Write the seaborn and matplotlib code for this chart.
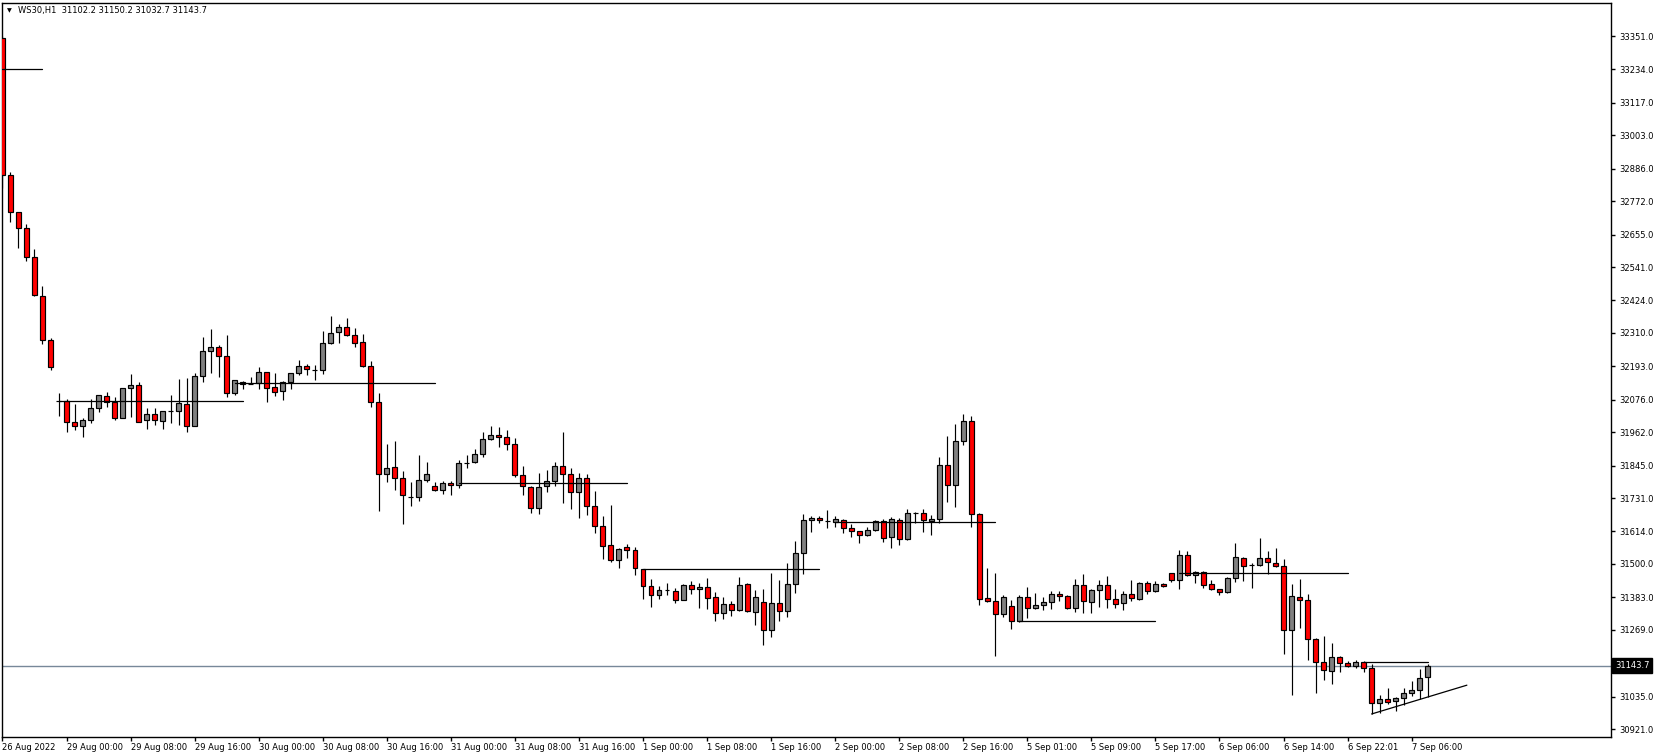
import numpy as np
import pandas as pd
import seaborn as sns
import matplotlib
matplotlib.use("Agg")
from matplotlib import pyplot as plt
import matplotlib.transforms as mtransforms

# WS30 H1 candles (one entry per bar)
opens = [33343, 32864, 32733, 32677, 32575, 32438, 32284, 32072, 32070, 31997,
         31983, 32004, 32046, 32088, 32067, 32011, 32116, 32126, 32004, 32025,
         32000, 32035, 32035, 32060, 31983, 32158, 32246, 32260, 32228, 32098,
         32137, 32132, 32133, 32172, 32119, 32105, 32137, 32168, 32193, 32181,
         32179, 32274, 32312, 32330, 32302, 32277, 32193, 32067, 31814, 31839,
         31800, 31736, 31734, 31793, 31772, 31758, 31783, 31776, 31855, 31856,
         31884, 31937, 31951, 31944, 31920, 31811, 31769, 31695, 31772, 31790,
         31842, 31814, 31751, 31800, 31702, 31632, 31566, 31513, 31558, 31548,
         31481, 31422, 31390, 31408, 31404, 31373, 31425, 31411, 31418, 31383,
         31327, 31359, 31338, 31429, 31331, 31366, 31267, 31362, 31334, 31429,
         31537, 31653, 31660, 31649, 31646, 31653, 31625, 31614, 31600, 31618,
         31650, 31593, 31653, 31586, 31678, 31678, 31650, 31657, 31846, 31776,
         31930, 32000, 31674, 31380, 31369, 31323, 31352, 31299, 31383, 31345,
         31355, 31366, 31394, 31387, 31345, 31425, 31366, 31408, 31425, 31376,
         31362, 31394, 31376, 31432, 31404, 31429, 31467, 31443, 31530, 31460,
         31471, 31429, 31411, 31401, 31450, 31520, 31495, 31495, 31520, 31502,
         31492, 31267, 31383, 31373, 31236, 31155, 31124, 31173, 31152, 31141,
         31155, 31134, 31011, 31025, 31018, 31029, 31047, 31057, 31102.2]
highs = [33350, 32873, 32735, 32692, 32604, 32475, 32293, 32100, 32079, 32061,
         32013, 32079, 32093, 32103, 32085, 32117, 32166, 32137, 32047, 32047,
         32038, 32091, 32148, 32152, 32168, 32296, 32323, 32267, 32302, 32146,
         32140, 32155, 32191, 32174, 32168, 32142, 32170, 32215, 32200, 32197,
         32317, 32369, 32341, 32362, 32326, 32305, 32211, 32098, 31920, 31930,
         31825, 31786, 31881, 31856, 31786, 31790, 31790, 31863, 31881, 31902,
         31962, 31983, 31979, 31969, 31941, 31842, 31772, 31818, 31828, 31856,
         31962, 31835, 31818, 31814, 31755, 31667, 31706, 31555, 31569, 31558,
         31484, 31446, 31422, 31432, 31415, 31429, 31439, 31432, 31450, 31401,
         31383, 31369, 31453, 31432, 31408, 31411, 31467, 31443, 31502, 31579,
         31674, 31667, 31667, 31688, 31667, 31657, 31639, 31616, 31629, 31653,
         31657, 31664, 31660, 31692, 31681, 31692, 31671, 31874, 31948, 31990,
         32025, 32018, 31677, 31485, 31467, 31390, 31373, 31390, 31418, 31397,
         31383, 31404, 31404, 31390, 31446, 31464, 31411, 31443, 31457, 31411,
         31404, 31443, 31436, 31439, 31439, 31432, 31470, 31548, 31544, 31474,
         31474, 31443, 31413, 31453, 31572, 31523, 31502, 31590, 31544, 31555,
         31516, 31429, 31446, 31394, 31240, 31246, 31222, 31176, 31159, 31162,
         31159, 31148, 31039, 31064, 31032, 31064, 31089, 31131, 31150.2]
lows = [32817, 32700, 32609, 32563, 32440, 32270, 32180, 32020, 31964, 31969,
        31946, 31993, 32034, 32049, 32006, 32011, 32016, 31998, 31974, 31986,
        31974, 31995, 31987, 31964, 31983, 32137, 32168, 32157, 32086, 32091,
        32114, 32130, 32114, 32069, 32090, 32076, 32114, 32161, 32161, 32146,
        32165, 32272, 32274, 32300, 32260, 32192, 32049, 31685, 31788, 31760,
        31639, 31702, 31720, 31786, 31757, 31744, 31741, 31765, 31835, 31854,
        31876, 31935, 31909, 31898, 31804, 31741, 31678, 31674, 31751, 31772,
        31713, 31692, 31660, 31671, 31610, 31516, 31506, 31485, 31520, 31460,
        31378, 31348, 31376, 31390, 31362, 31372, 31394, 31345, 31341, 31299,
        31306, 31317, 31335, 31330, 31285, 31215, 31243, 31299, 31313, 31397,
        31464, 31611, 31643, 31625, 31629, 31607, 31593, 31572, 31597, 31617,
        31576, 31555, 31565, 31583, 31643, 31611, 31600, 31643, 31716, 31699,
        31916, 31629, 31355, 31366, 31178, 31313, 31273, 31297, 31309, 31341,
        31338, 31341, 31369, 31341, 31331, 31327, 31327, 31348, 31345, 31345,
        31338, 31369, 31373, 31394, 31403, 31420, 31436, 31411, 31457, 31432,
        31415, 31408, 31390, 31398, 31436, 31439, 31415, 31494, 31464, 31490,
        31183, 31040, 31274, 31162, 31047, 31092, 31078, 31120, 31138, 31134,
        31120, 30973, 30976, 31008, 30983, 31004, 31036, 31025, 31032.7]
closes = [32864, 32733, 32677, 32575, 32442, 32284, 32189, 32072, 31997, 31983,
          32004, 32046, 32091, 32067, 32011, 32116, 32126, 31999, 32025, 32004,
          32035, 32035, 32063, 31983, 32158, 32246, 32260, 32228, 32098, 32144,
          32130, 32132, 32172, 32116, 32102, 32137, 32168, 32193, 32182, 32181,
          32274, 32309, 32330, 32302, 32274, 32193, 32067, 31815, 31835, 31800,
          31741, 31736, 31793, 31814, 31758, 31783, 31776, 31853, 31855, 31884,
          31937, 31951, 31944, 31920, 31811, 31772, 31695, 31769, 31790, 31842,
          31814, 31751, 31800, 31702, 31632, 31562, 31513, 31551, 31548, 31485,
          31422, 31390, 31408, 31408, 31373, 31425, 31411, 31418, 31380, 31327,
          31359, 31338, 31425, 31334, 31383, 31267, 31362, 31334, 31429, 31537,
          31653, 31660, 31653, 31649, 31657, 31625, 31614, 31600, 31618, 31650,
          31590, 31657, 31586, 31678, 31678, 31653, 31657, 31846, 31776, 31930,
          32000, 31674, 31376, 31369, 31323, 31383, 31299, 31383, 31345, 31355,
          31366, 31394, 31387, 31345, 31425, 31369, 31408, 31425, 31376, 31359,
          31394, 31380, 31432, 31404, 31429, 31422, 31443, 31530, 31460, 31471,
          31425, 31411, 31401, 31450, 31523, 31492, 31495, 31520, 31506, 31492,
          31267, 31387, 31373, 31236, 31155, 31127, 31173, 31152, 31141, 31155,
          31134, 31011, 31025, 31015, 31029, 31047, 31057, 31099, 31143.7]

tick_bars = list(range(0, 177, 8))
tick_labels = ['26 Aug 2022', '29 Aug 00:00', '29 Aug 08:00', '29 Aug 16:00',
               '30 Aug 00:00', '30 Aug 08:00', '30 Aug 16:00', '31 Aug 00:00',
               '31 Aug 08:00', '31 Aug 16:00', '1 Sep 00:00', '1 Sep 08:00',
               '1 Sep 16:00', '2 Sep 00:00', '2 Sep 08:00', '2 Sep 16:00',
               '5 Sep 01:00', '5 Sep 09:00', '5 Sep 17:00', '6 Sep 06:00',
               '6 Sep 14:00', '6 Sep 22:01', '7 Sep 06:00']
price_ticks = [33351, 33234, 33117, 33003, 32886, 32772, 32655, 32541, 32424,
               32310, 32193, 32076, 31962, 31845, 31731, 31614, 31500, 31383,
               31269, 31035, 30921]
last_price = 31143.7

# hand drawn levels (start bar, end bar, price) and the rising trendline
level_start = [0, 7, 29, 57, 80, 104, 127, 147, 170]
level_end = [5, 30, 54, 78, 102, 124, 144, 168, 178]
level_price = [33237, 32072, 32133, 31783, 31481, 31646, 31299, 31467, 31155]
trend_bars = [171, 182.9]
trend_prices = [30974, 31075]

sns.set_theme(style="white")
plt.rcParams['font.family'] = ['DejaVu Sans']

df = pd.DataFrame({'bar': np.arange(len(opens)), 'open': opens, 'high': highs,
                   'low': lows, 'close': closes})
df['color'] = np.where(df['close'] >= df['open'], '#808080', '#ff0000')

rows = []
for k, (a, b, p) in enumerate(zip(level_start, level_end, level_price)):
    rows.append((k, a, p))
    rows.append((k, b, p))
rows.append((99, trend_bars[0], trend_prices[0]))
rows.append((99, trend_bars[1], trend_prices[1]))
lines = pd.DataFrame(rows, columns=['id', 'x', 'y'])

W, H = 1657, 753
fig = plt.figure(figsize=(W / 100, H / 100), dpi=100)
ax = fig.add_axes([2.3 / W, 1 - 737 / H, (1611 - 2.3) / W, (737 - 3) / H])

ax.axhline(last_price, color='#778899', lw=1, zorder=1)
ax.vlines(df['bar'], df['low'], df['high'], colors='black', lw=0.85, zorder=2)
ax.bar(df['bar'], df['close'] - df['open'], bottom=df['open'], width=0.62,
       color=df['color'], edgecolor='black', linewidth=0.85, zorder=3)
sns.lineplot(data=lines, x='x', y='y', units='id', estimator=None, sort=False,
             color='black', lw=0.9, ax=ax, legend=False, zorder=4)

ax.set_xlim(-0.02, 200.9)
ax.set_ylim(30893.3, 33466.7)
ax.set_xlabel('')
ax.set_ylabel('')

ax.set_xticks(tick_bars)
ax.set_xticklabels(tick_labels, ha='left')
ax.yaxis.tick_right()
ax.set_yticks(price_ticks)
ax.set_yticklabels([f"{v:.1f}" for v in price_ticks])
ax.tick_params(axis='x', bottom=True, direction='out', length=3, width=1,
               pad=1, labelsize=6, colors='black')
ax.tick_params(axis='y', right=True, left=False, direction='out', length=3,
               width=1, pad=3, labelsize=6, colors='black')
for s in ax.spines.values():
    s.set_color('black')
    s.set_linewidth(1)
    s.set_visible(True)

trans = mtransforms.blended_transform_factory(ax.transAxes, ax.transData)
ax.text(1.0 + 4 / 1609, last_price, f"{last_price:.1f}", transform=trans,
        ha='left', va='center', fontsize=6, color='white', clip_on=False,
        bbox=dict(facecolor='black', edgecolor='black', boxstyle='square,pad=0.35'))

fig.text(7 / W, 1 - 11 / H, "▼", fontsize=4.5, va='center', color='black')
fig.text(18 / W, 1 - 11 / H, "WS30,H1  31102.2 31150.2 31032.7 31143.7",
         fontsize=6, va='center', color='black')

fig.savefig('out.png', dpi=100)
